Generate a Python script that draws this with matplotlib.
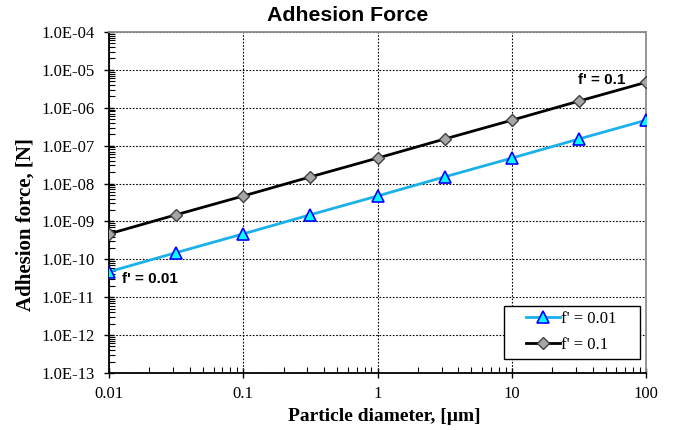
import math
import matplotlib
matplotlib.use("Agg")
import matplotlib.pyplot as plt
from matplotlib.patches import Rectangle
from matplotlib.ticker import LogLocator, FixedLocator, FuncFormatter, NullFormatter

# ==============================
# DATA
# ==============================
diameter_um = [0.01, 0.0316, 0.1, 0.316, 1, 3.16, 10, 31.6, 100]
force_f001 = [4.7e-11, 1.5e-10, 4.7e-10, 1.5e-9, 4.7e-9, 1.5e-8, 4.7e-8, 1.5e-7, 4.7e-7]
force_f01 = [4.7e-10, 1.5e-9, 4.7e-9, 1.5e-8, 4.7e-8, 1.5e-7, 4.7e-7, 1.5e-6, 4.7e-6]
x_ticks = [0.01, 0.1, 1, 10, 100]
x_tick_labels = ["0.01", "0.1", "1", "10", "100"]
y_ticks = [1e-13, 1e-12, 1e-11, 1e-10, 1e-9, 1e-8, 1e-7, 1e-6, 1e-5, 1e-4]

SERIF = "Liberation Serif"
SANS = "Liberation Sans"

fig = plt.figure(figsize=(6.73, 4.30), dpi=100)
ax = fig.add_axes([0.162, 0.1326, 0.798, 0.793])

ax.plot(diameter_um, force_f001, color="#1AB0E8", linewidth=2,
        marker="^", markersize=8, markerfacecolor="#00FFFF",
        markeredgecolor="#0000FF", markeredgewidth=1.2,
        label="f' = 0.01", zorder=4)
ax.plot(diameter_um, force_f01, color="black", linewidth=2,
        marker="D", markersize=6.5, markerfacecolor="#A6A6A6",
        markeredgecolor="#404040", markeredgewidth=1,
        label="f' = 0.1", zorder=4)

ax.set_xscale("log")
ax.set_yscale("log")
ax.set_xlim(0.01, 100)
ax.set_ylim(1e-13, 1e-4)

ax.xaxis.set_major_locator(FixedLocator(x_ticks))
ax.set_xticklabels(x_tick_labels)
ax.xaxis.set_minor_locator(LogLocator(base=10, subs=range(2, 10), numticks=20))
ax.xaxis.set_minor_formatter(NullFormatter())
ax.yaxis.set_major_locator(FixedLocator(y_ticks))
ax.yaxis.set_major_formatter(FuncFormatter(
    lambda v, p: "1.0E-%02d" % round(-math.log10(v))))
ax.yaxis.set_minor_locator(LogLocator(base=10, subs=range(2, 10), numticks=20))
ax.yaxis.set_minor_formatter(NullFormatter())

ax.tick_params(which="major", direction="inout", length=7, width=1,
               labelsize=12)
ax.tick_params(axis="x", which="major", pad=6)
ax.tick_params(axis="y", which="major", pad=7)
ax.tick_params(which="minor", direction="in", length=4, width=0.8)
for lbl in ax.get_xticklabels() + ax.get_yticklabels():
    lbl.set_fontfamily(SERIF)

ax.grid(True, which="major", linestyle=(0, (1.5, 1.5)), color="black",
        linewidth=0.8)

for side in ["left", "bottom"]:
    ax.spines[side].set_color("black")
    ax.spines[side].set_linewidth(1.3)
for side in ["top", "right"]:
    ax.spines[side].set_color("#8C8C8C")
    ax.spines[side].set_linewidth(1.3)

ax.set_xlabel("Particle diameter, [µm]", fontfamily=SERIF, fontweight="bold",
              fontsize=14)
ax.set_ylabel("Adhesion force, [N]", fontfamily=SERIF, fontweight="bold",
              fontsize=15)
ax.xaxis.set_label_coords(0.512, -0.103)
ax.yaxis.set_label_coords(-0.137, 0.434)

fig.text(0.516, 0.963, "Adhesion Force", ha="center", va="center",
         fontfamily=SANS, fontweight="bold", fontsize=15.3)

# series labels on the chart
ax.annotate("f' = 0.1", xy=(diameter_um[-1], force_f01[-1]), xytext=(-49, 2),
            textcoords="offset points", ha="left", va="center",
            fontfamily=SANS, fontweight="bold", fontsize=11)
ax.annotate("f' = 0.01", xy=(diameter_um[0], force_f001[0]), xytext=(9, -5),
            textcoords="offset points", ha="left", va="center",
            fontfamily=SANS, fontweight="bold", fontsize=11)

# legend box drawn separately so its padding matches the reference
ax.add_patch(Rectangle((0.7356, 0.041), 0.2532, 0.155, transform=ax.transAxes,
                       facecolor="white", edgecolor="black", linewidth=1,
                       zorder=5))
leg = ax.legend(loc="center", bbox_to_anchor=(0.8612, 0.1202),
                prop={"family": SERIF, "size": 12}, frameon=False,
                handlelength=2.0, handletextpad=0.1, borderpad=0.2,
                labelspacing=0.6)
leg.set_zorder(6)

fig.savefig("out.png", dpi=100)
